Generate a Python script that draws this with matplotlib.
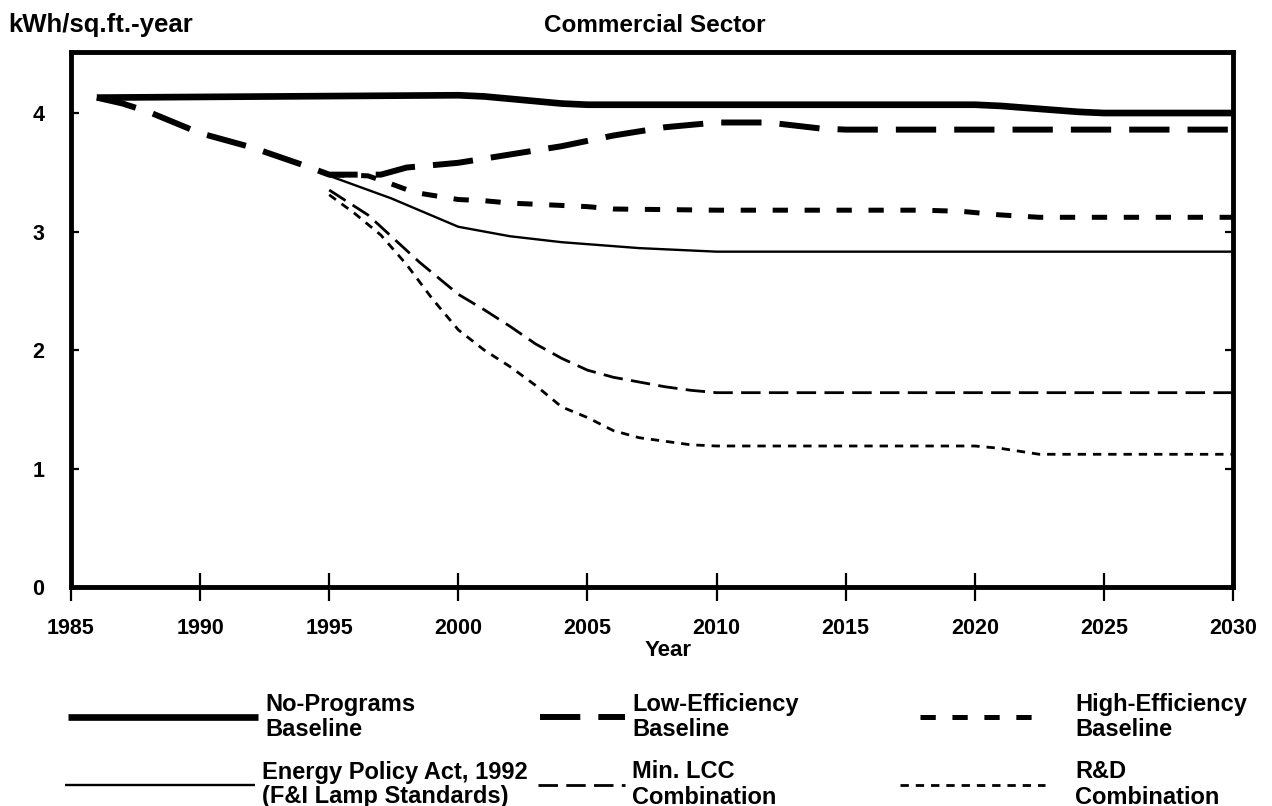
import matplotlib
matplotlib.use('Agg')
import matplotlib.pyplot as plt
from matplotlib.lines import Line2D

plt.rcParams['font.family'] = ['Liberation Sans', 'DejaVu Sans']
plt.rcParams['font.weight'] = 'bold'
plt.rcParams['axes.labelweight'] = 'bold'
plt.rcParams['lines.scale_dashes'] = False

# series (kWh/sq.ft.-year)
no_prog_years = [1986, 2000, 2001, 2004, 2005, 2020, 2021, 2024, 2025, 2030]
no_prog_vals = [4.13, 4.15, 4.14, 4.08, 4.07, 4.07, 4.06, 4.01, 4.0, 4.0]

low_eff_years = [1986, 1987, 1988, 1990, 1992, 1994, 1995, 1997, 1998, 2000,
                 2002, 2004, 2006, 2008, 2010, 2012, 2014, 2015, 2030]
low_eff_vals = [4.13, 4.08, 4.01, 3.83, 3.71, 3.56, 3.48, 3.48, 3.54, 3.58,
                3.65, 3.72, 3.81, 3.88, 3.92, 3.92, 3.87, 3.86, 3.86]

high_eff_years = [1995, 1996.5, 1997.3, 1998.3, 2000, 2001, 2002, 2003, 2004,
                  2005, 2006, 2010, 2018, 2019.5, 2021, 2022.5, 2030]
high_eff_vals = [3.48, 3.47, 3.41, 3.33, 3.27, 3.26, 3.24, 3.23, 3.22,
                 3.21, 3.19, 3.18, 3.18, 3.17, 3.14, 3.12, 3.12]

epact_years = [1995, 1997.4, 2000, 2002, 2004, 2007, 2010, 2030]
epact_vals = [3.47, 3.28, 3.04, 2.96, 2.91, 2.86, 2.83, 2.83]

min_lcc_years = [1995, 1996.5, 1997.5, 1998.5, 2000, 2001, 2002, 2003, 2004,
                 2005, 2006, 2007, 2008, 2009, 2010, 2030]
min_lcc_vals = [3.35, 3.14, 2.94, 2.74, 2.47, 2.34, 2.2, 2.05, 1.93,
                1.83, 1.77, 1.73, 1.69, 1.66, 1.64, 1.64]

rd_years = [1995, 1996, 1997, 1998, 1999, 2000, 2001, 2002, 2003, 2004, 2005,
            2006, 2007, 2008, 2009, 2010, 2020, 2021, 2022.5, 2030]
rd_vals = [3.31, 3.15, 2.97, 2.72, 2.43, 2.17, 2.0, 1.86, 1.7, 1.52, 1.43,
           1.32, 1.26, 1.23, 1.2, 1.19, 1.19, 1.17, 1.12, 1.12]

labels = ['No-Programs\nBaseline', 'Low-Efficiency\nBaseline', 'High-Efficiency\nBaseline',
          'Energy Policy Act, 1992\n(F&I Lamp Standards)', 'Min. LCC\nCombination',
          'R&D\nCombination']

x_ticks = [1985, 1990, 1995, 2000, 2005, 2010, 2015, 2020, 2025, 2030]
y_ticks = [0, 1, 2, 3, 4]

styles = [
    dict(lw=4.8, ls='-'),
    dict(lw=4.3, dashes=(29, 13)),
    dict(lw=3.6, dashes=(11, 12)),
    dict(lw=1.7, ls='-'),
    dict(lw=2.0, dashes=(14, 6)),
    dict(lw=2.0, dashes=(6, 5)),
]
series = [(no_prog_years, no_prog_vals), (low_eff_years, low_eff_vals),
          (high_eff_years, high_eff_vals), (epact_years, epact_vals),
          (min_lcc_years, min_lcc_vals), (rd_years, rd_vals)]

W, H = 1272, 806
fig = plt.figure(figsize=(W / 100, H / 100), dpi=100)
ax = fig.add_axes([71 / W, 1 - 587 / H, (1233 - 71) / W, (587 - 52) / H])

for (xs, ys), st in zip(series, styles):
    ax.plot(xs, ys, color='black', solid_capstyle='butt', dash_capstyle='butt',
            solid_joinstyle='round', **st)

ax.set_xlim(1985, 2030)
ax.set_ylim(0, 4.515)
for sp in ax.spines.values():
    sp.set_linewidth(3.5)

ax.set_xticks(x_ticks)
ax.set_yticks(y_ticks)
ax.tick_params(axis='x', direction='inout', length=20, width=1.6, labelsize=15.5, pad=12)
ax.tick_params(axis='y', direction='in', length=6, width=1.6, labelsize=15.5, pad=19,
               right=True)
ax.set_xlabel('Year', fontsize=16, va='center')
ax.xaxis.set_label_coords((668 - 71) / (1233 - 71), -(650 - 587) / (587 - 52))

fig.text(8 / W, 1 - 25 / H, 'kWh/sq.ft.-year', fontsize=18.5, va='center', ha='left')
fig.text(655 / W, 1 - 25 / H, 'Commercial Sector', fontsize=17.5, va='center', ha='center')

# hand-laid legend below the axes: 3 columns x 2 rows
leg_rows = [717, 785]
leg_lines = [(68, 258), (540, 625), (920, 1045), (65, 255), (538, 625), (900, 1045)]
leg_text_x = [265, 632, 1075, 262, 632, 1075]
for i, st in enumerate(styles):
    yl = leg_rows[i // 3]
    x0, x1 = leg_lines[i]
    fig.add_artist(Line2D([x0 / W, x1 / W], [1 - yl / H, 1 - yl / H], transform=fig.transFigure,
                          color='black', dash_capstyle='butt', solid_capstyle='butt', **st))
    first, second = labels[i].split('\n')
    fig.text(leg_text_x[i] / W, 1 - (yl - 13) / H, first, fontsize=17, va='center', ha='left')
    fig.text(leg_text_x[i] / W, 1 - (yl + 12) / H, second, fontsize=17, va='center', ha='left')

fig.savefig('out.png', dpi=100)
